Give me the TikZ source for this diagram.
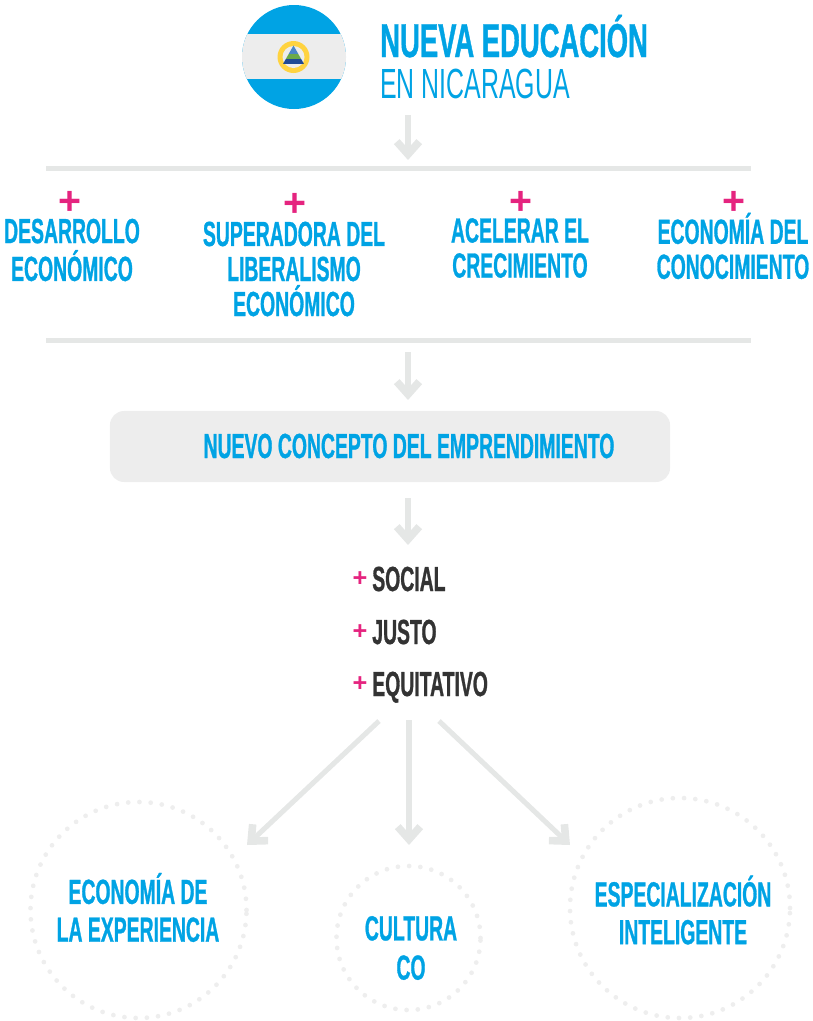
\documentclass[tikz,border=0pt]{standalone}
\usepackage{fontspec}
\usetikzlibrary{arrows.meta}
\newfontfamily\condfont[FakeStretch=0.556,FakeBold=0.8]{Liberation Sans Bold}
\newfontfamily\headfont[FakeStretch=0.577,FakeBold=0.8]{Liberation Sans Bold}
\newfontfamily\thinfont[FakeStretch=0.59]{Liberation Sans}
\newfontfamily\plusfont{Liberation Sans Bold}
\definecolor{eduBlue}{HTML}{00A3E4}
\definecolor{eduPink}{HTML}{E5247F}
\definecolor{eduDark}{HTML}{333333}
\definecolor{eduGray}{HTML}{E5E7E6}
\definecolor{eduBox}{HTML}{EDEDED}
\definecolor{eduDots}{HTML}{EEEEEE}
\definecolor{eduGold}{HTML}{FFD340}
\definecolor{eduTop}{HTML}{4A86C8}
\definecolor{eduGreen}{HTML}{6AAA4A}
\definecolor{eduBase}{HTML}{1F4A96}
\tikzset{
  bluetext/.style={text=eduBlue, align=center, inner sep=0pt, font=\condfont\fontsize{24.8}{24.9}\selectfont},
  darktext/.style={text=eduDark, anchor=base west, inner sep=0pt, font=\condfont\fontsize{24.8}{24.9}\selectfont},
  bigplus/.style={text=eduPink, inner sep=0pt, font=\plusfont\fontsize{28}{28}\selectfont},
  smallplus/.style={text=eduPink, inner sep=0pt, font=\plusfont\fontsize{18}{18}\selectfont},
  downarrow/.style={-{Straight Barb[length=9pt, width=16pt, line width=5.4pt]}, eduGray, line width=3.6pt},
  dotring/.style={draw=eduDots, circle, inner sep=0pt, line width=3.4pt, line cap=round, dash pattern=on 0pt off 8pt},
}
\begin{document}
\begin{tikzpicture}[x=0.025cm, y=-0.025cm]
  \useasboundingbox (0,0) rectangle (813,1021);
  % bandera
  \begin{scope}
    \clip (294,57) circle (52);
    \fill[eduBlue] (240,0) rectangle (350,110);
    \fill[eduBox] (240,34) rectangle (350,79);
  \end{scope}
  \fill[eduGold] (293.5,57) circle (16);
  \fill[eduBox] (293.5,57) circle (11);
  \begin{scope}
    \clip (293.5,45.5) -- (304,64) -- (283,64) -- cycle;
    \fill[eduTop] (275,45) rectangle (310,54);
    \fill[eduGreen] (275,54) rectangle (310,59);
    \fill[eduBase] (275,59) rectangle (310,64);
  \end{scope}
  % titulo
  \node[anchor=base west, inner sep=0pt, text=eduBlue, font=\headfont\fontsize{33.8}{34}\selectfont] (titulo) at (380,57) {NUEVA EDUCACIÓN};
  \node[anchor=base west, inner sep=0pt, text=eduBlue, font=\thinfont\fontsize{30}{30}\selectfont] (subtitulo) at (380,98) {EN NICARAGUA};
  % lineas
  \fill[eduGray] (46,165.5) rectangle (751,170.5);
  \fill[eduGray] (46,337.5) rectangle (751,342.5);
  % primera fila
  \node[bigplus] (plusa) at (69.5,203) {+};
  \node[bigplus] (plusb) at (294.5,205) {+};
  \node[bigplus] (plusc) at (520.5,203) {+};
  \node[bigplus] (plusd) at (733.5,203) {+};
  \node[bluetext] (desarrollo) at (72,250) {DESARROLLO\\[2pt]ECONÓMICO};
  \node[bluetext] (superadora) at (294,269) {SUPERADORA DEL\\LIBERALISMO\\ECONÓMICO};
  \node[bluetext] (acelerar) at (520,248) {ACELERAR EL\\CRECIMIENTO};
  \node[bluetext] (economia) at (733,246) {ECONOMÍA DEL\\CONOCIMIENTO};
  % caja
  \node[fill=eduBox, rounded corners=10pt, minimum width=14cm, minimum height=1.775cm, inner sep=0pt] (caja) at (390,446.5) {};
  \node[bluetext] (concepto) at (409,446) {NUEVO CONCEPTO DEL EMPRENDIMIENTO};
  % lista
  \node[smallplus] (pluse) at (360,579) {+};
  \node[smallplus] (plusf) at (360,632) {+};
  \node[smallplus] (plusg) at (360,684) {+};
  \node[darktext] (social) at (372,591) {SOCIAL};
  \node[darktext] (justo) at (372,644) {JUSTO};
  \node[darktext] (equitativo) at (372,696) {EQUITATIVO};
  % circulos
  \node[dotring, minimum size=5.4cm] (ringa) at (138.5,910) {};
  \node[dotring, minimum size=3.6cm] (ringb) at (408.5,938) {};
  \node[dotring, minimum size=5.5cm] (ringc) at (680,908) {};
  \node[bluetext] (experiencia) at (138,907.5) {ECONOMÍA DE\\[2pt]LA EXPERIENCIA};
  \node[bluetext] (cultura) at (411,948) {CULTURA\\[3pt]CO};
  \node[bluetext] (inteligente) at (683,910) {ESPECIALIZACIÓN\\[2pt]INTELIGENTE};
  % flechas
  \coordinate (fa) at (408,115);
  \coordinate (fb) at (408,160);
  \coordinate (fc) at (408,352);
  \coordinate (fd) at (408,400);
  \coordinate (fe) at (408,498);
  \coordinate (ff) at (408,545);
  \coordinate (fg) at (379,721);
  \coordinate (fh) at (247,845);
  \coordinate (fi) at (409,720);
  \coordinate (fj) at (409,845);
  \coordinate (fk) at (439,721);
  \coordinate (fl) at (570,845);
  \draw[downarrow] (fa) -- (fb);
  \draw[downarrow] (fc) -- (fd);
  \draw[downarrow] (fe) -- (ff);
  \draw[downarrow] (fg) -- (fh);
  \draw[downarrow] (fi) -- (fj);
  \draw[downarrow] (fk) -- (fl);
\end{tikzpicture}
\end{document}
